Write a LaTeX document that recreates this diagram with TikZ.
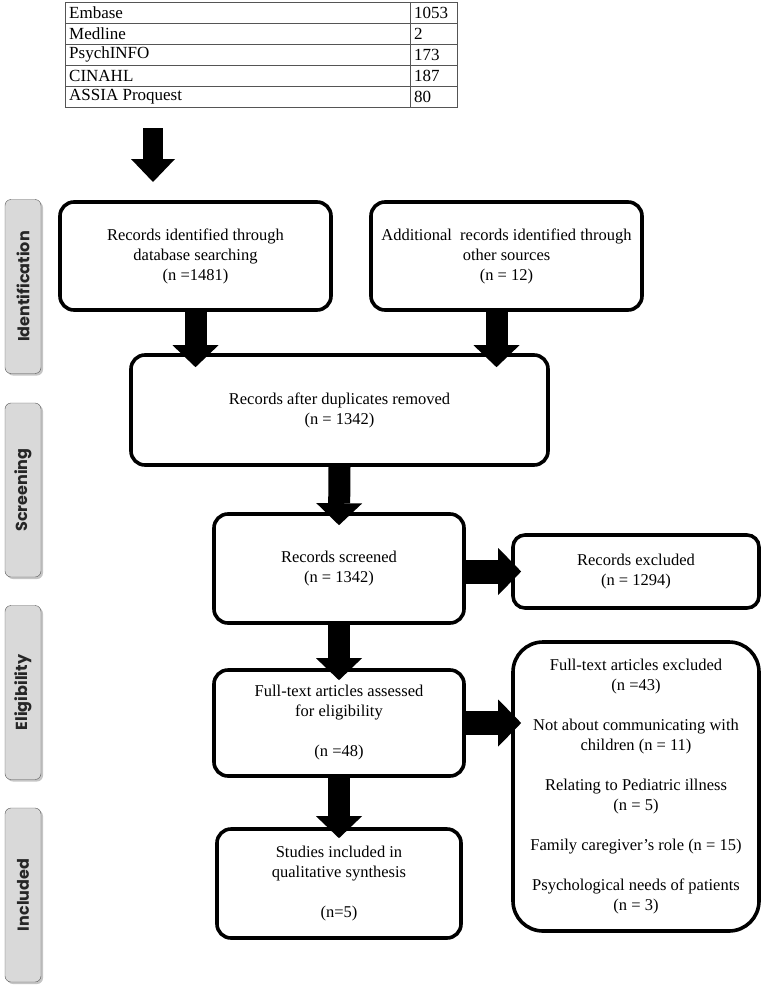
\documentclass[tikz,border=0pt]{standalone}
\usepackage{fontspec}
\setmainfont{Liberation Serif}
\newfontfamily\phasefont{Poppins}
\usetikzlibrary{arrows.meta,shadows}
\definecolor{phasegray}{HTML}{D9D9D9}
\definecolor{phaseline}{HTML}{555555}
\definecolor{tabline}{HTML}{555555}
\begin{document}
\begin{tikzpicture}[x = 1pt, y = -1pt,
		box/.style = {draw, line width = 3.6pt, rounded corners = 14pt, fill = white, align = center, inner sep = 0pt, font = \fontsize{16.5}{20}\selectfont},
		phase/.style = {draw = phaseline, fill = phasegray, rounded corners = 6pt, rotate = 90, minimum width = 174pt, minimum height = 36pt, inner sep = 0pt, text = black!85, font = \phasefont\bfseries\fontsize{16}{18}\selectfont, drop shadow = {shadow xshift = 2pt, shadow yshift = -2pt, fill = black!45}},
		downarrow/.style = {line width = 22pt, -{Triangle[length = 22pt, width = 46pt, line width = 0pt]}},
		sidearrow/.style = {line width = 24pt, -{Triangle[length = 23pt, width = 47pt, line width = 0pt]}}]
				\useasboundingbox (0, 0) rectangle (762, 990);
				
				% database table
				\draw[tabline] (65, 2) rectangle (457, 107);
				\foreach \y in {23, 44, 65, 86} {
					\draw[tabline] (65, \y) -- (457, \y);
				}
				\draw[tabline] (410, 2) -- (410, 107);
				\foreach \db/\hits [count = \i] in {Embase/1053, Medline/2, PsychINFO/173, CINAHL/187, ASSIA Proquest/80} {
					\node[anchor = west, inner sep = 0pt, font = \fontsize{17}{20}\selectfont] (db\i) at (69, {21*\i - 8.5}) {\db};
					\node[anchor = west, inner sep = 0pt, font = \fontsize{17}{20}\selectfont] (hits\i) at (414, {21*\i - 8.5}) {\hits};
				}
				\coordinate (dbtop) at (153, 128);
				\coordinate (dbtip) at (153, 182);
				\draw[line width = 20pt, -{Triangle[length = 23pt, width = 44pt, line width = 0pt]}] (dbtop) -- (dbtip);
				
				% phases
				\node[phase] (identification) at (23, 286.5) {Identification};
				\node[phase] (screening) at (23, 490) {Screening};
				\node[phase] (eligibility) at (23, 692.5) {Eligibility};
				\node[phase] (included) at (23, 895) {Included};
				
				% boxes
				\node[box, minimum width = 271pt, minimum height = 108pt] (ident) at (195.5, 256) {Records identified through\\database searching\\(n =1481)};
				\node[box, minimum width = 271pt, minimum height = 108pt] (other) at (506.5, 256) {Additional\ \ records identified through\\other sources\\(n = 12)};
				\node[box, minimum width = 417pt, minimum height = 110pt] (dup) at (339.5, 410) {Records after duplicates removed\\(n = 1342)};
				\node[box, minimum width = 250pt, minimum height = 109pt] (screen) at (339, 568.5) {Records screened\\(n = 1342)};
				\node[box, minimum width = 246pt, minimum height = 73pt, rounded corners = 12pt] (excl) at (636, 571.5) {Records excluded\\(n = 1294)};
				\node[box, minimum width = 250pt, minimum height = 106pt] (elig) at (339, 723) {Full-text articles assessed\\for eligibility\\[20pt](n =48)};
				\node[box, minimum width = 246pt, minimum height = 289pt, rounded corners = 30pt] (ftex) at (636, 786.5) {Full-text articles excluded\\(n =43)\\[20pt]Not about communicating with\\children (n = 11)\\[20pt]Relating to Pediatric illness\\(n = 5)\\[20pt]Family caregiver’s role (n = 15)\\[20pt]Psychological needs of patients\\(n = 3)};
				\node[box, minimum width = 244pt, minimum height = 109pt] (incl) at (339, 883.5) {Studies included in\\qualitative synthesis\\[20pt](n=5)};
				
				% arrows
				\draw[downarrow] (ident.south) -- ([yshift = -14pt]dup.north -| ident.south);
				\draw[downarrow] ([xshift = -10pt]other.south) -- ([yshift = -14pt, xshift = -10pt]dup.north -| other.south);
				\draw[downarrow] (dup.south) -- ([yshift = -13pt]screen.north);
				\draw[downarrow] (screen.south) -- ([yshift = -12pt]elig.north);
				\draw[downarrow] (elig.south) -- ([yshift = -11pt]incl.north);
				\draw[sidearrow] (screen.east |- excl.west) -- ([xshift = 10pt]excl.west);
				\draw[sidearrow] (elig.east) -- ([xshift = 10pt]elig.east -| ftex.west);
			\end{tikzpicture}
\end{document}
